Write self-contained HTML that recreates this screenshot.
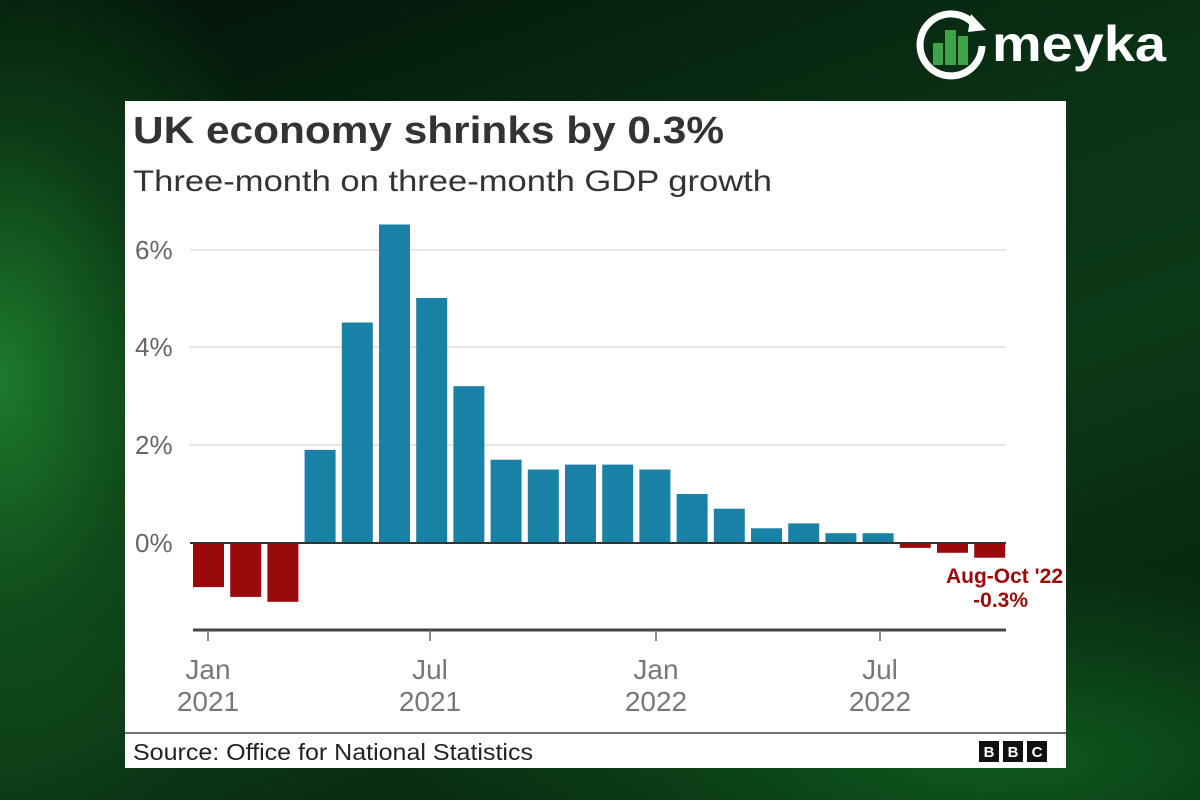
<!DOCTYPE html>
<html><head><style>
body{margin:0;width:1200px;height:800px;overflow:hidden;font-family:"Liberation Sans",sans-serif;
background:radial-gradient(ellipse 300px 500px at 0px 380px,#1d7a2c 0%,rgba(20,90,30,0.5) 50%,rgba(0,0,0,0) 100%),
radial-gradient(ellipse 600px 200px at 1000px 760px,#0f5a1e 0%,rgba(0,0,0,0) 100%),
linear-gradient(160deg,#02120a 0%,#0a3315 40%,#0c3a17 60%,#041a0b 100%);}
</style></head><body>
<svg width="1200" height="800" style="position:absolute;left:0;top:0">
<g>
<path d="M977 28 A31 31 0 1 0 982 46" fill="none" stroke="#fff" stroke-width="7"/>
<polygon points="971,14 986,30 968,32" fill="#fff"/>
<rect x="933" y="43" width="10" height="22" fill="#3fa34a"/>
<rect x="945" y="30" width="11" height="35" fill="#3fa34a"/>
<rect x="958" y="36" width="10" height="29" fill="#3fa34a"/>
<text x="992" y="61" font-size="50" font-weight="bold" fill="#fff" textLength="174" lengthAdjust="spacingAndGlyphs">meyka</text>
</g>
<rect x="125" y="101" width="941" height="667" fill="#fff"/>
<text x="133" y="143" font-size="38" font-weight="bold" fill="#333" textLength="591" lengthAdjust="spacingAndGlyphs">UK economy shrinks by 0.3%</text>
<text x="133" y="191" font-size="30" fill="#333" textLength="639" lengthAdjust="spacingAndGlyphs">Three-month on three-month GDP growth</text>
<g stroke="#ddd" stroke-width="1.5">
<line x1="190" x2="1006" y1="250" y2="250"/><line x1="190" x2="1006" y1="347" y2="347"/><line x1="190" x2="1006" y1="445" y2="445"/>
</g>
<g font-size="26" fill="#666">
<text x="135" y="259">6%</text><text x="135" y="356">4%</text><text x="135" y="454">2%</text><text x="135" y="552">0%</text>
</g>
<g id="bars"></g>
<line x1="190" x2="1006" y1="543" y2="543" stroke="#333" stroke-width="2"/>
<line x1="193" x2="1006" y1="630" y2="630" stroke="#444" stroke-width="3"/>
<g stroke="#666" stroke-width="1.5">
<line x1="208" x2="208" y1="630" y2="641"/><line x1="430" x2="430" y1="630" y2="641"/><line x1="656" x2="656" y1="630" y2="641"/><line x1="880" x2="880" y1="630" y2="641"/>
</g>
<g font-size="28" fill="#777" text-anchor="middle">
<text x="208" y="679">Jan</text><text x="208" y="711">2021</text>
<text x="430" y="679">Jul</text><text x="430" y="711">2021</text>
<text x="656" y="679">Jan</text><text x="656" y="711">2022</text>
<text x="880" y="679">Jul</text><text x="880" y="711">2022</text>
</g>
<g font-size="21" font-weight="bold" fill="#9a0a0a" text-anchor="end">
<text x="1063" y="583">Aug-Oct '22</text><text x="1028" y="607">-0.3%</text>
</g>
<line x1="125" x2="1066" y1="733" y2="733" stroke="#444" stroke-width="1.5"/>
<text x="133" y="760" font-size="23" fill="#222" textLength="400" lengthAdjust="spacingAndGlyphs">Source: Office for National Statistics</text>
<g font-size="15" font-weight="bold" fill="#fff" text-anchor="middle">
<rect x="979" y="741" width="20" height="21" fill="#111"/><text x="989" y="757">B</text>
<rect x="1003" y="741" width="20" height="21" fill="#111"/><text x="1013" y="757">B</text>
<rect x="1027" y="741" width="20" height="21" fill="#111"/><text x="1037" y="757">C</text>
</g>
</svg>
<script>
var v=[-0.9,-1.1,-1.2,1.9,4.5,6.5,5.0,3.2,1.7,1.5,1.6,1.6,1.5,1.0,0.7,0.3,0.4,0.2,0.2,-0.1,-0.2,-0.3];
var g=document.getElementById('bars'),s='';
v.forEach(function(d,i){var x=193+i*37.2,h=Math.abs(d)*49,y=d>0?543-h:543;
s+='<rect x="'+x+'" y="'+y+'" width="31" height="'+h+'" fill="'+(d>0?'#1a81a6':'#9a0a0a')+'"/>';});
g.innerHTML=s;
</script>
</body></html>
